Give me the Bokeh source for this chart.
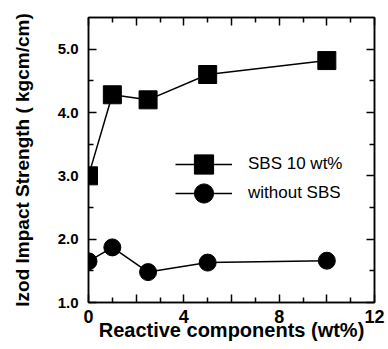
from bokeh.plotting import figure
from bokeh.models import Range1d, LinearAxis, FixedTicker, Legend, LegendItem
from bokeh.embed import file_html
from bokeh.resources import INLINE

# Reactive component content (wt%)
reactive = [0, 1, 2.5, 5, 10]
# Izod impact strength (kgcm/cm)
sbs_10 = [3.0, 4.28, 4.2, 4.6, 4.82]
without_sbs = [1.65, 1.87, 1.48, 1.63, 1.66]

x_ticks = [0, 2, 4, 6, 8, 10, 12]
x_labels = {0: "0", 2: "", 4: "4", 6: "", 8: "8", 10: "", 12: "12"}
x_minor = [1, 3, 5, 7, 9, 11]
y_ticks = [1.0, 2.0, 3.0, 4.0, 5.0]
y_labels = {1.0: "1.0", 2.0: "2.0", 3.0: "3.0", 4.0: "4.0", 5.0: "5.0"}
y_minor = [1.5, 2.5, 3.5, 4.5]

FONT = "Liberation Sans"

p = figure(width=388, height=349, output_backend="svg", toolbar_location=None,
           x_range=Range1d(0, 12), y_range=Range1d(1.0, 5.5),
           min_border_left=88, min_border_right=14, min_border_top=17,
           min_border_bottom=47, x_axis_location=None, y_axis_location=None)
p.grid.visible = False
p.outline_line_color = "black"
p.outline_line_width = 1.5
p.background_fill_color = "white"
p.border_fill_color = "white"


def style_axis(ax, ticks, minor, show_labels):
    ax.ticker = FixedTicker(ticks=ticks, minor_ticks=minor)
    ax.major_tick_in = 8
    ax.major_tick_out = 0
    ax.minor_tick_in = 5
    ax.minor_tick_out = 0
    ax.axis_line_width = 1.5
    ax.major_tick_line_width = 1.5
    ax.minor_tick_line_width = 1.5
    ax.major_label_text_font = FONT
    ax.major_label_text_font_style = "bold"
    ax.major_label_text_color = "black"
    ax.axis_label_text_font = FONT
    ax.axis_label_text_font_style = "bold"
    ax.axis_label_text_color = "black"
    if not show_labels:
        ax.major_label_text_alpha = 0
        ax.major_label_text_font_size = "1px"


xb = LinearAxis(axis_label="Reactive components (wt%)")
style_axis(xb, x_ticks, x_minor, True)
xb.major_label_text_font_size = "18px"
xb.axis_label_text_font_size = "20px"
xb.major_label_standoff = 7
xb.axis_label_standoff = -7
xb.major_label_overrides = x_labels
p.add_layout(xb, "below")

yl = LinearAxis(axis_label="Izod Impact Strength ( kgcm/cm)")
style_axis(yl, y_ticks, y_minor, True)
yl.major_label_text_font_size = "15px"
yl.axis_label_text_font_size = "19px"
yl.major_label_standoff = 10
yl.axis_label_standoff = 22
yl.major_label_overrides = y_labels
p.add_layout(yl, "left")

xt = LinearAxis()
style_axis(xt, x_ticks, x_minor, False)
p.add_layout(xt, "above")

yr = LinearAxis()
style_axis(yr, y_ticks, y_minor, False)
p.add_layout(yr, "right")

l1 = p.line(reactive, sbs_10, line_color="black", line_width=1.5)
s1 = p.scatter(reactive, sbs_10, marker="square", size=18,
               fill_color="black", line_color="black")
l2 = p.line(reactive, without_sbs, line_color="black", line_width=1.5)
s2 = p.scatter(reactive, without_sbs, marker="circle", size=17,
               fill_color="black", line_color="black")

# one legend box per series so the rows can sit close together
legend_style = dict(orientation="vertical", glyph_width=57, glyph_height=48,
                    label_height=48, padding=0, margin=0, label_standoff=16,
                    border_line_alpha=0, background_fill_alpha=0,
                    label_text_font=FONT, label_text_font_size="17px",
                    label_text_color="black")
leg1 = Legend(items=[LegendItem(label="SBS 10 wt%", renderers=[l1, s1])],
              location=(87, 114), **legend_style)
leg2 = Legend(items=[LegendItem(label="without SBS", renderers=[l2, s2])],
              location=(87, 85), **legend_style)
p.add_layout(leg1, "center")
p.add_layout(leg2, "center")

open("out.html", "w").write(file_html(p, INLINE))
